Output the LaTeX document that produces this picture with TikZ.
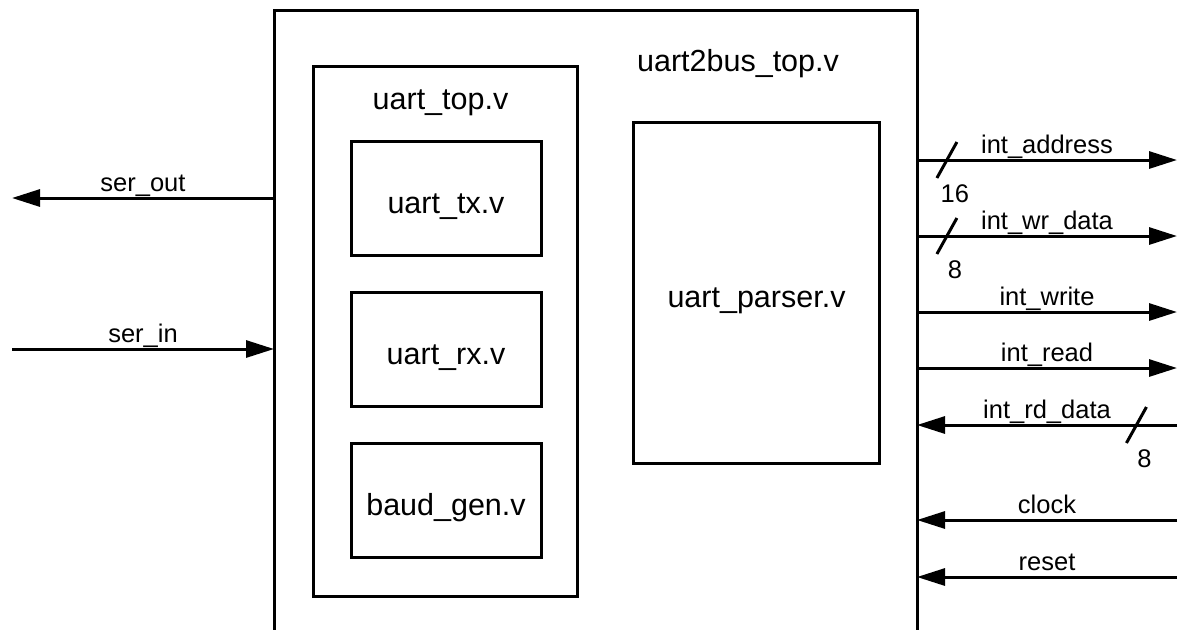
\documentclass[tikz,border=0pt]{standalone}
\usepackage{fontspec}
\setmainfont{Liberation Sans}
\usetikzlibrary{arrows.meta}
\begin{document}
\begin{tikzpicture}[x=0.5pt,y=-0.5pt,
  modbox/.style={draw,line width=1.5pt,minimum width=95pt,minimum height=57pt,
    text height=15pt,text depth=0pt,font=\fontsize{15.25}{18}\selectfont},
  modname/.style={anchor=base,font=\fontsize{15.25}{18}\selectfont},
  sigline/.style={line width=1.5pt,-{Triangle[length=14pt,width=8.5pt]}},
  signame/.style={midway,anchor=base,yshift=3.5pt,font=\fontsize{12.75}{15}\selectfont},
  buswidth/.style={font=\fontsize{12.75}{15}\selectfont}]
\useasboundingbox (0,0) rectangle (1178,629);
% top level block, open at the bottom
\coordinate (topsw) at (274,640);
\coordinate (topnw) at (274,10);
\coordinate (topne) at (917,10);
\coordinate (topse) at (917,640);
\draw[line width=1.5pt] (topsw) -- (topnw) -- (topne) -- (topse);
\node[modname] (topname) at (738,71) {uart2bus\_top.v};
% uart block
\node[draw,line width=1.5pt,minimum width=132pt,minimum height=265pt] (uarttop) at (445.5,331) {};
\node[modname] (uarttopname) at (440.5,109) {uart\_top.v};
\foreach \mname/\mtext/\ypos in {tx/uart\_tx.v/198,rx/uart\_rx.v/349,baud/baud\_gen.v/500}
  {\node[modbox] (\mname) at (446,\ypos) {\mtext};}
\node[modbox,minimum width=123pt,minimum height=170.5pt] (parser) at (756.5,292.5) {uart\_parser.v};
% serial side
\coordinate (serout) at (12,198);
\coordinate (serin) at (12,349);
\draw[sigline] (topnw |- serout) -- (serout) node[signame]{ser\_out};
\draw[sigline] (serin) -- (topnw |- serin) node[signame]{ser\_in};
% bus side
\foreach \sname/\stext/\ypos in {adr/int\_address/160,wrd/int\_wr\_data/236,wr/int\_write/312,rd/int\_read/368}
  {\coordinate (\sname) at (1177,\ypos);
   \draw[sigline] (topne |- \sname) -- coordinate[pos=0.115] (\sname-slash) (\sname) node[signame]{\stext};}
\foreach \sname/\stext/\ypos in {rdd/int\_rd\_data/425,clk/clock/520,rst/reset/577}
  {\coordinate (\sname) at (1177,\ypos);
   \draw[sigline] (\sname) -- coordinate[pos=0.156] (\sname-slash) (topne |- \sname) node[signame]{\stext};}
% bus widths
\foreach \sname/\bits in {adr/16,wrd/8,rdd/8}
  {\draw[line width=1.5pt] ([shift={(-10,18)}]\sname-slash) -- ([shift={(10,-18)}]\sname-slash);
   \node[buswidth] (\sname-bits) at ([shift={(8,34)}]\sname-slash) {\bits};}
\end{tikzpicture}
\end{document}
